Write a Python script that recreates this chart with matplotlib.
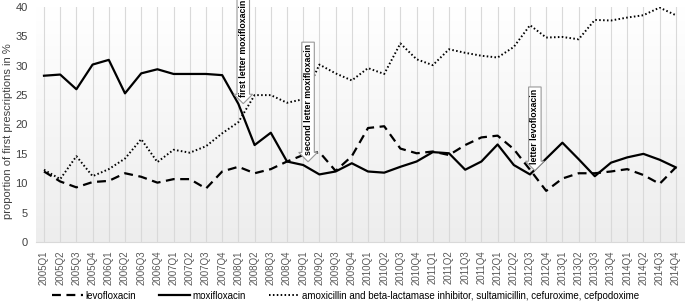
import numpy as np
import matplotlib
matplotlib.use('Agg')
import matplotlib.pyplot as plt

plt.rcParams['font.family'] = ['Liberation Sans', 'DejaVu Sans']

# quarters 2005Q1 .. 2014Q4
quarters = ['%dQ%d' % (y, q) for y in range(2005, 2015) for q in range(1, 5)]

levofloxacin = [12.0, 10.3, 9.3, 10.2, 10.4, 11.7, 11.1, 10.1, 10.7, 10.7, 9.1, 12.0,
                12.8, 11.7, 12.4, 13.7, 14.8, 15.3, 12.1, 14.6, 19.4, 19.7, 15.9, 15.1,
                15.4, 14.8, 16.5, 17.8, 18.1, 15.8, 12.3, 8.7, 10.8, 11.7, 11.7, 12.0,
                12.4, 11.4, 9.9, 12.7]
moxifloxacin = [28.3, 28.5, 26.0, 30.2, 31.0, 25.3, 28.7, 29.4, 28.6, 28.6, 28.6, 28.4,
                23.5, 16.5, 18.6, 13.7, 13.1, 11.5, 12.0, 13.4, 12.0, 11.8, 12.8, 13.7,
                15.3, 15.1, 12.3, 13.7, 16.6, 13.1, 11.5, 14.2, 16.9, 14.1, 11.2, 13.5,
                14.4, 15.0, 14.0, 12.7]
amoxicillin = [12.3, 10.7, 14.6, 11.2, 12.4, 14.2, 17.5, 13.6, 15.7, 15.2, 16.3, 18.5,
               20.4, 25.0, 25.0, 23.7, 24.3, 30.2, 28.7, 27.5, 29.6, 28.6, 33.8, 31.1,
               30.1, 32.8, 32.2, 31.7, 31.4, 33.2, 36.9, 34.8, 34.9, 34.5, 37.8, 37.7,
               38.2, 38.6, 39.9, 38.6]

# callouts: (label, quarter index, value the arrow points at)
callouts = [('first letter moxifloxacin', 12, 23.3),
            ('second letter moxifloxacin', 16, 13.4),
            ('letter levofloxacin', 30, 11.9)]

fig = plt.figure(figsize=(6.85, 3.04), dpi=100)
ax = fig.add_axes([0.0524, 0.204, 0.946, 0.773])

x = np.arange(len(quarters))

# background gradient white -> light gray
grad = np.linspace(0.0, 1.0, 256).reshape(-1, 1)
ax.imshow(grad, extent=[-0.5, len(quarters) - 0.5, 0, 40], aspect='auto',
          cmap=matplotlib.colors.LinearSegmentedColormap.from_list('g', ['#ededed', '#ffffff']),
          zorder=0, origin='lower', vmin=0, vmax=1)

for xi in x:
    ax.axvline(xi, color='#d9d9d9', lw=0.8, zorder=1)

ax.plot(x, levofloxacin, color='black', lw=1.6, dashes=(4, 2.5), label='levofloxacin', zorder=3)
ax.plot(x, moxifloxacin, color='black', lw=1.6, label='moxifloxacin', zorder=3)
ax.plot(x, amoxicillin, color='black', lw=1.4, dashes=(0.8, 1.2),
        label='amoxicillin and beta-lactamase inhibitor, sultamicillin, cefuroxime, cefpodoxime', zorder=3)

for label, qi, tip in callouts:
    ax.text(qi + 0.3, tip + 1.4, label, rotation=90, ha='center', va='bottom', fontsize=6.3,
            fontweight='bold', zorder=4,
            bbox=dict(boxstyle='larrow,pad=0.2', fc='white', ec='#999999', lw=0.8))

ax.set_xlim(-0.5, len(quarters) - 0.5)
ax.set_ylim(0, 40)
ax.set_yticks(range(0, 41, 5))
ax.set_xticks(x)
ax.set_xticklabels(quarters, rotation=90, fontsize=7, color='#595959')
ax.tick_params(axis='y', labelsize=8, colors='#404040', length=0, pad=6)
ax.tick_params(axis='x', length=0, pad=6)
for s in ax.spines.values():
    s.set_visible(False)
ax.spines['bottom'].set_visible(True)
ax.spines['bottom'].set_color('#d9d9d9')
ax.set_ylabel('proportion of first prescriptions in %', fontsize=8, color='#404040')
ax.yaxis.set_label_coords(-0.036, 0.47)

fig.legend(loc='center', bbox_to_anchor=(0.505, 0.027), ncol=3, frameon=False,
           fontsize=7, handlelength=3.1, handletextpad=0.3, columnspacing=2.4)

fig.savefig('out.png', dpi=100)
